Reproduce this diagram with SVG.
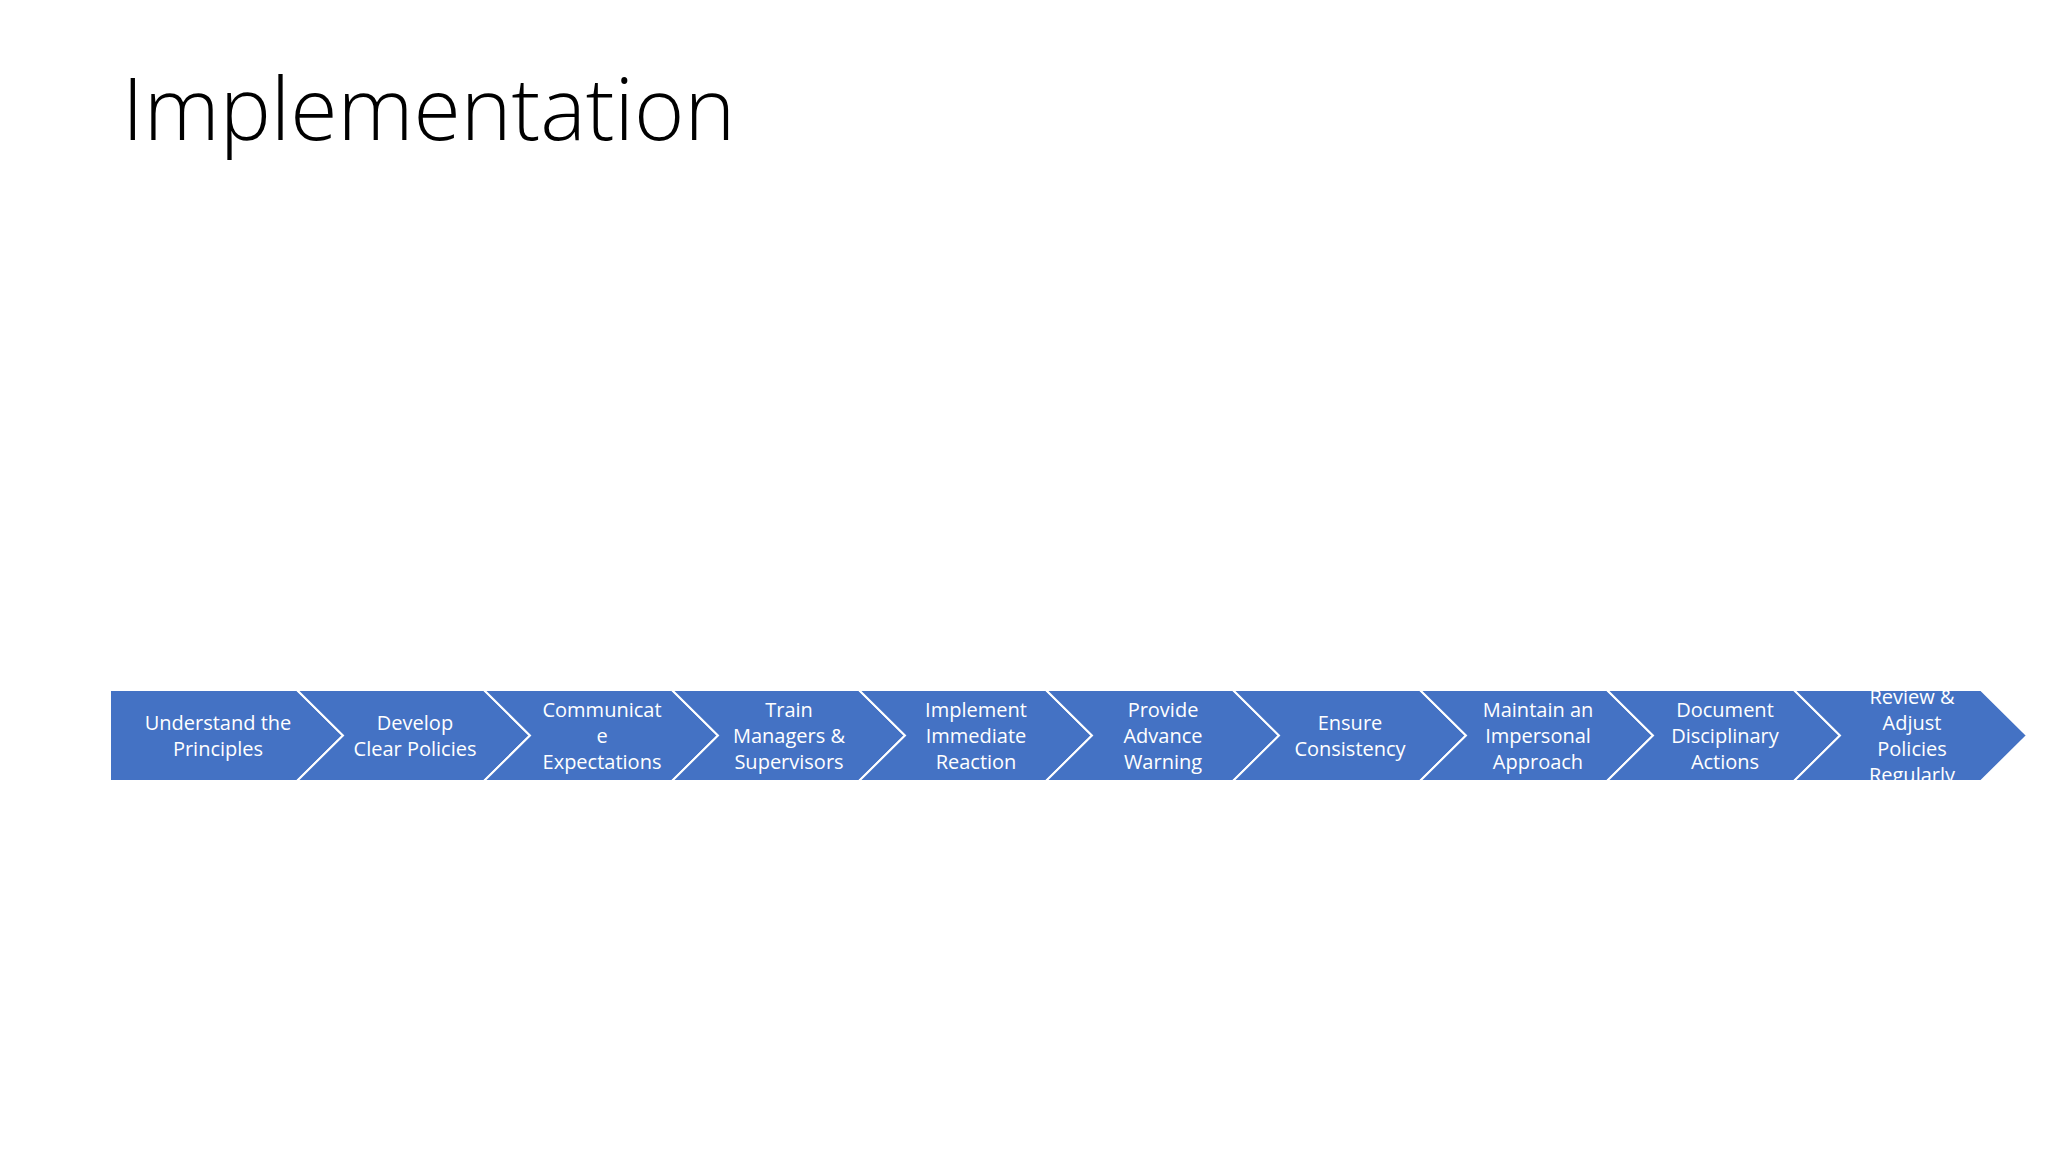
<svg xmlns="http://www.w3.org/2000/svg" width="2048" height="1152" viewBox="0 0 2048 1152">
<style>
.c{fill:#4472c4;stroke:#fff;stroke-width:2}
.t{font-family:"Open Sans","Noto Sans",sans-serif;font-size:20px;fill:#fff;text-anchor:middle}
.h{font-family:"Open Sans","Noto Sans",sans-serif;font-size:86px;fill:#000;font-weight:300}
</style>
<defs><clipPath id="band"><rect x="100" y="690" width="1940" height="91"/></clipPath></defs>
<rect width="2048" height="1152" fill="#fff"/>
<text class="h" x="122" y="140">Implementation</text>
<g id="n1"><path class="c" d="M110,690 L297,690 L343,735.5 L297,781 L110,781 Z"/><text class="t" x="218"><tspan x="218" y="730">Understand the</tspan><tspan x="218" y="756">Principles</tspan></text></g>
<g id="n2"><path class="c" d="M297,690 L484,690 L530,735.5 L484,781 L297,781 L343,735.5 Z"/><text class="t"><tspan x="415" y="730">Develop</tspan><tspan x="415" y="756">Clear Policies</tspan></text></g>
<g id="n3"><path class="c" d="M484,690 L672,690 L718,735.5 L672,781 L484,781 L530,735.5 Z"/><text class="t"><tspan x="602" y="717">Communicat</tspan><tspan x="602" y="743">e</tspan><tspan x="602" y="769">Expectations</tspan></text></g>
<g id="n4"><path class="c" d="M672,690 L859,690 L905,735.5 L859,781 L672,781 L718,735.5 Z"/><text class="t"><tspan x="789" y="717">Train</tspan><tspan x="789" y="743">Managers &amp;</tspan><tspan x="789" y="769">Supervisors</tspan></text></g>
<g id="n5"><path class="c" d="M859,690 L1046,690 L1092,735.5 L1046,781 L859,781 L905,735.5 Z"/><text class="t"><tspan x="976" y="717">Implement</tspan><tspan x="976" y="743">Immediate</tspan><tspan x="976" y="769">Reaction</tspan></text></g>
<g id="n6"><path class="c" d="M1046,690 L1233,690 L1279,735.5 L1233,781 L1046,781 L1092,735.5 Z"/><text class="t"><tspan x="1163" y="717">Provide</tspan><tspan x="1163" y="743">Advance</tspan><tspan x="1163" y="769">Warning</tspan></text></g>
<g id="n7"><path class="c" d="M1233,690 L1420,690 L1466,735.5 L1420,781 L1233,781 L1279,735.5 Z"/><text class="t"><tspan x="1350" y="730">Ensure</tspan><tspan x="1350" y="756">Consistency</tspan></text></g>
<g id="n8"><path class="c" d="M1420,690 L1607,690 L1653,735.5 L1607,781 L1420,781 L1466,735.5 Z"/><text class="t"><tspan x="1538" y="717">Maintain an</tspan><tspan x="1538" y="743">Impersonal</tspan><tspan x="1538" y="769">Approach</tspan></text></g>
<g id="n9"><path class="c" d="M1607,690 L1794,690 L1840,735.5 L1794,781 L1607,781 L1653,735.5 Z"/><text class="t"><tspan x="1725" y="717">Document</tspan><tspan x="1725" y="743">Disciplinary</tspan><tspan x="1725" y="769">Actions</tspan></text></g>
<g id="n10"><path class="c" d="M1794,690 L1981,690 L2027,735.5 L1981,781 L1794,781 L1840,735.5 Z"/><text class="t" clip-path="url(#band)"><tspan x="1912" y="704">Review &amp;</tspan><tspan x="1912" y="730">Adjust</tspan><tspan x="1912" y="756">Policies</tspan><tspan x="1912" y="782">Regularly</tspan></text></g>
<g id="connectors"/>
</svg>
